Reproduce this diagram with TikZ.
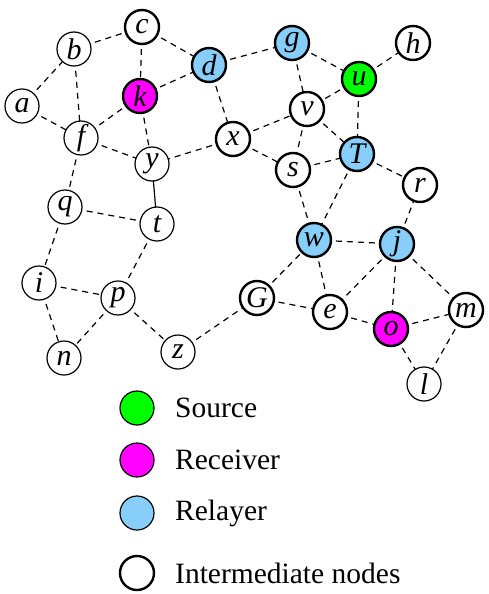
\documentclass[tikz,border=0pt]{standalone}
\usepackage{fontspec}
\setmainfont{Liberation Serif}
\definecolor{srcgreen}{HTML}{00FF00}
\definecolor{rcvmag}{HTML}{FF00FF}
\definecolor{relblue}{HTML}{87CEFA}
\tikzset{
  nd/.style={circle,draw,line width=1.2pt,minimum size=34pt,inner sep=0pt,fill=white,font=\fontsize{30}{30}\selectfont\itshape},
  ndk/.style={nd,line width=2.4pt},
  src/.style={ndk,fill=srcgreen},
  rcv/.style={ndk,fill=rcvmag},
  rel/.style={ndk,fill=relblue},
  ed/.style={line width=1.2pt,dash pattern=on 6pt off 5pt},
  sol/.style={line width=1.2pt},
  lgc/.style={circle,draw,line width=1.2pt,minimum size=34pt,inner sep=0pt},
  lgt/.style={anchor=west,font=\fontsize{29.5}{29.5}\selectfont,inner sep=0pt}
}
\begin{document}
\begin{tikzpicture}[x=1pt,y=-1pt]
\useasboundingbox (0,0) rectangle (488,594);
\coordinate (Ca) at (22,106);
\coordinate (Cb) at (74,49);
\coordinate (Cc) at (142,27);
\coordinate (Cd) at (209,65);
\coordinate (Ck) at (140,96);
\coordinate (Cf) at (81,138);
\coordinate (Cy) at (152,164);
\coordinate (Cx) at (233,139);
\coordinate (Cg) at (292,43);
\coordinate (Ch) at (413,43);
\coordinate (Cu) at (359,79);
\coordinate (Cv) at (307,109);
\coordinate (CT) at (357,154);
\coordinate (Cs) at (293,170);
\coordinate (Cr) at (420,185);
\coordinate (Cq) at (65,207);
\coordinate (Ct) at (157,224);
\coordinate (Cw) at (314,240);
\coordinate (Cj) at (397,244);
\coordinate (Ci) at (39,283);
\coordinate (Cp) at (118,298);
\coordinate (CG) at (257,298);
\coordinate (Ce) at (330,312);
\coordinate (Co) at (391,329);
\coordinate (Cm) at (466,310);
\coordinate (Cz) at (178,352);
\coordinate (Cn) at (64,358);
\coordinate (Cl) at (424,384);
\foreach \p/\q in {a/b,a/f,b/c,b/f,c/k,c/d,k/d,k/f,k/y,f/y,f/q,d/g,d/x,x/y,x/v,x/s,g/v,g/u,u/h,u/v,u/T,v/T,v/s,s/T,T/r,T/w,s/w,q/t,q/i,t/p,i/p,i/n,p/n,p/z,z/G,G/w,G/e,w/e,w/j,j/r,j/e,j/o,j/m,e/o,o/m,o/l,m/l}
  \draw[ed] (C\p) -- (C\q);
\draw[sol] (Cy) -- (Ct);
\node[nd]  (a) at (Ca) {a};
\node[nd]  (b) at (Cb) {b};
\node[ndk] (c) at (Cc) {c};
\node[rel] (d) at (Cd) {d};
\node[rcv] (k) at (Ck) {k};
\node[nd]  (f) at (Cf) {f};
\node[nd]  (y) at (Cy) {y};
\node[ndk] (x) at (Cx) {x};
\node[rel] (g) at (Cg) {g};
\node[ndk] (h) at (Ch) {h};
\node[src] (u) at (Cu) {u};
\node[ndk] (v) at (Cv) {v};
\node[rel] (T) at (CT) {T};
\node[ndk] (s) at (Cs) {s};
\node[ndk] (r) at (Cr) {r};
\node[nd]  (q) at (Cq) {q};
\node[nd]  (t) at (Ct) {t};
\node[rel] (w) at (Cw) {w};
\node[rel] (j) at (Cj) {j};
\node[nd]  (i) at (Ci) {i};
\node[nd]  (p) at (Cp) {p};
\node[ndk] (G) at (CG) {G};
\node[ndk] (e) at (Ce) {e};
\node[rcv] (o) at (Co) {o};
\node[ndk] (m) at (Cm) {m};
\node[nd]  (z) at (Cz) {z};
\node[nd]  (n) at (Cn) {n};
\node[nd]  (l) at (Cl) {l};
\node[lgc,fill=srcgreen] (L1) at (137,408) {};
\node[lgc,fill=rcvmag]   (L2) at (137,460) {};
\node[lgc,fill=relblue]  (L3) at (137,513) {};
\node[lgc,line width=2.4pt] (L4) at (137,573) {};
\node[lgt] (T1) at (175,408) {Source};
\node[lgt] (T2) at (175,460) {Receiver};
\node[lgt] (T3) at (175,513) {Relayer};
\node[lgt] (T4) at (175,573) {Intermediate nodes};
\end{tikzpicture}
\end{document}
